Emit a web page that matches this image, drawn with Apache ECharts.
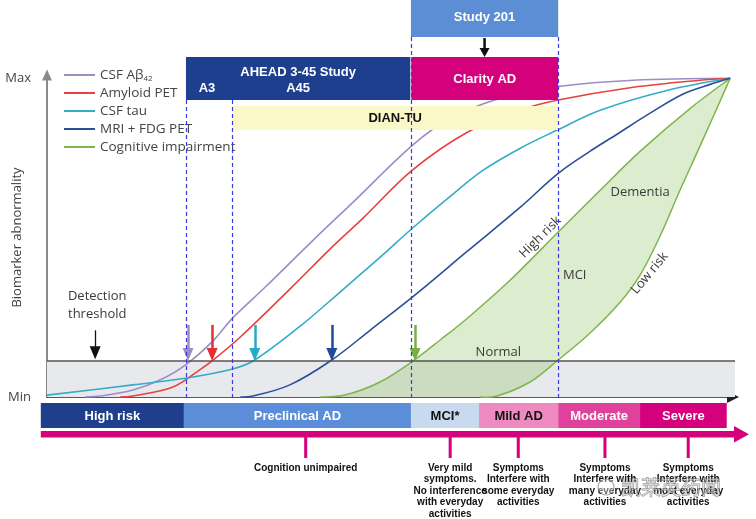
<!DOCTYPE html>
<html><head><meta charset="utf-8">
<script src="https://cdn.jsdelivr.net/npm/echarts@6/dist/echarts.min.js"></script>
<style>html,body{margin:0;padding:0;background:#fff}#c{width:756px;height:519px}</style>
</head><body><div id="c"></div>
<script>
// ---------------- data ----------------
const seriesNames = ['CSF Aβ42', 'Amyloid PET', 'CSF tau', 'MRI + FDG PET', 'Cognitive impairment'];
const csfAbeta = [[5.5,0],[7.7,0.3],[12.5,2.2],[16.4,5.3],[20.1,10.0],[24.1,17.5],[27.0,24.8],[31.7,34.4],[38.7,49.2],[44.5,61.1],[53.1,78.9],[58.6,87.4],[65.8,93.6],[74.6,97.4],[85.2,99.3],[99.3,99.9]];
const amyloidPet = [[10.6,0],[12.5,0.3],[18.3,3.1],[22.2,8.5],[24.0,11.3],[28.1,18.8],[35.3,33.8],[41.1,46.3],[45.9,56.0],[53.1,71.1],[61.1,83.0],[68.8,89.9],[74.1,93.0],[85.2,97.1],[94.9,99.3],[99.3,99.9]];
const csfTau = [[0,0.6],[12.5,3.8],[20.1,5.9],[27.0,8.8],[30.2,11.6],[36.8,22.2],[42.6,32.9],[48.4,43.8],[53.1,52.9],[58.6,62.9],[63.4,71.1],[68.8,78.0],[74.1,83.6],[80.4,89.9],[90.1,96.1],[99.3,99.9]];
const mriFdg = [[28.1,0],[29.9,0.3],[35.3,3.8],[41.4,11.6],[47.0,21.0],[53.1,31.3],[61.1,45.7],[68.8,59.5],[74.3,70.1],[78.9,77.0],[82.8,82.3],[87.6,88.9],[92.4,94.9],[96.4,98.0],[99.3,99.9]];
const cogHighRisk = [[39.7,0],[43.3,0.6],[48.4,4.7],[53.2,11.3],[57.1,17.8],[61.1,24.7],[67.3,36.6],[74.3,51.7],[80.4,64.8],[86.2,77.0],[93.5,90.5],[99.3,99.9]];
const cogLowRisk = [[62.9,0],[65.4,0.3],[70.2,4.7],[74.3,11.6],[78.9,20.0],[83.3,29.7],[86.2,38.2],[89.1,50.4],[92.0,64.8],[94.5,76.7],[97.1,89.2],[99.3,99.9]];
const threshold = 11.3;
const crossX = [20.5, 24.0, 30.2, 41.4, 53.5];
const detectionX = 7.0;

const trialNames = ['Study 201', 'AHEAD 3-45 Study', 'Clarity AD', 'DIAN-TU'];
const trialStart = [52.9, 20.2, 52.95, 26.9];
const trialEnd = [74.3, 52.8, 74.3, 74.3];
const dashedX = [20.2, 26.9, 52.95, 74.3];

const stageNames = ['High risk', 'Preclinical AD', 'MCI*', 'Mild AD', 'Moderate', 'Severe'];
const stageStart = [-0.9, 19.9, 52.9, 62.8, 74.3, 86.2];
const stageEnd = [19.9, 52.9, 62.8, 74.3, 86.2, 98.8];

const descX = [37.6, 58.6, 68.5, 81.1, 93.2];
const descTexts = ['Cognition unimpaired',
  'Very mild\nsymptoms.\nNo interference\nwith everyday\nactivities',
  'Symptoms\nInterfere with\nsome everyday\nactivities',
  'Symptoms\nInterfere with\nmany everyday\nactivities',
  'Symptoms\nInterfere with\nmost everyday\nactivities'];

const annoText = ['Normal', 'Dementia', 'MCI', 'High risk', 'Low risk', 'Detection\nthreshold'];
const annoX = [65.6, 86.2, 76.7, 71.7, 87.6, 7.3];
const annoY = [14.1, 64.2, 38.2, 50.1, 38.8, 28.8];
const annoRot = [0, 0, 0, 45, 50, 0];

// ---------------- styles ----------------
const curveColors = ['#9d8cc6', '#e8413f', '#35abc8', '#2c4f9c', '#80b54d'];
const arrowColors = ['#9d8cc6', '#e2322f', '#27aac6', '#1f4b9c', '#77b043'];
const trialColors = ['#5b8ed5', '#1e3f8e', '#d5007b', '#fbf8c8'];
const stageColors = ['#1f3f8c', '#5b8dd8', '#c9d9ef', '#ec8ac1', '#e0419a', '#d5007c'];
const stageText = ['#fff', '#fff', '#111', '#111', '#fff', '#fff'];
const FONT = '"Open Sans", "Noto Sans", sans-serif';
const ARIAL = '"Liberation Sans", Arial, sans-serif';

function crPath(pts, move) {
  let d = (move ? 'M' : 'L') + pts[0][0] + ',' + pts[0][1];
  for (let i = 0; i < pts.length - 1; i++) {
    const p0 = pts[Math.max(i - 1, 0)], p1 = pts[i], p2 = pts[i + 1], p3 = pts[Math.min(i + 2, pts.length - 1)];
    const c1 = [p1[0] + (p2[0] - p0[0]) / 6, p1[1] + (p2[1] - p0[1]) / 6];
    const c2 = [p2[0] - (p3[0] - p1[0]) / 6, p2[1] - (p3[1] - p1[1]) / 6];
    d += ' C' + c1[0] + ',' + c1[1] + ' ' + c2[0] + ',' + c2[1] + ' ' + p2[0] + ',' + p2[1];
  }
  return d;
}

const chart = echarts.init(document.getElementById('c'), null, {renderer: 'canvas'});

const lineSeries = [csfAbeta, amyloidPet, csfTau, mriFdg].map((d, i) => ({
  name: seriesNames[i], type: 'line', data: d, smooth: 0.35, showSymbol: false, symbol: 'none',
  z: 3, lineStyle: {color: curveColors[i], width: 1.6}, itemStyle: {color: curveColors[i]}, silent: true
}));

const option = {
  animation: false,
  backgroundColor: '#fff',
  grid: {left: 47, right: 21, top: 78, bottom: 122, containLabel: false, outerBoundsMode: 'none'},
  xAxis: {type: 'value', min: 0, max: 100, axisLabel: {show: false}, axisTick: {show: false}, splitLine: {show: false},
    axisLine: {show: true, lineStyle: {color: '#222', width: 1.5}, symbol: ['none', 'triangle'], symbolSize: [12, 12], symbolOffset: [0, -2]}},
  yAxis: {type: 'value', min: 0, max: 100, interval: 100, splitLine: {show: false},
    axisTick: {show: false},
    axisLine: {show: true, lineStyle: {color: '#8a8a8a', width: 2}, symbol: ['none', 'triangle'], symbolSize: [10, 11], symbolOffset: [0, 3]},
    axisLabel: {margin: 16, color: '#444', fontSize: 13, fontFamily: FONT,
      formatter: v => v === 0 ? 'Min' : (v === 100 ? 'Max' : '')},
    name: 'Biomarker abnormality', nameLocation: 'middle', nameGap: 23, nameMoveOverlap: false,
    nameTextStyle: {color: '#444', fontSize: 13, fontFamily: FONT}},
  legend: {
    data: seriesNames, orient: 'vertical', left: 64, top: 67, padding: 0, icon: 'rect', itemWidth: 31, itemHeight: 2,
    itemGap: 2, itemStyle: {borderWidth: 0}, selectedMode: false,
    textStyle: {color: '#444', fontSize: 13.5, fontFamily: FONT, lineHeight: 16,
      rich: {sub: {fontSize: 8, fontFamily: FONT, color: '#444', padding: [7, 0, 0, 0]}}},
    formatter: n => n === 'CSF Aβ42' ? 'CSF Aβ{sub|42}' : n
  },
  series: [
    {name: 'band', type: 'line', data: [[0, 0]], symbol: 'none', lineStyle: {width: 0}, z: 1, silent: true,
      markArea: {silent: true, itemStyle: {color: '#e7e9ed'}, data: [[{coord: [0, 0]}, {coord: [100, threshold]}]]},
      markLine: {silent: true, symbol: 'none', label: {show: false}, lineStyle: {color: '#555', width: 1.5, type: 'solid'},
        data: [[{coord: [0, threshold]}, {coord: [100, threshold]}]]}},
    {name: 'Cognitive impairment', type: 'custom', data: [[0, 0]], z: 2, silent: true,
      itemStyle: {color: curveColors[4]},
      renderItem: function (params, api) {
        const hi = cogHighRisk.map(p => api.coord(p));
        const lo = cogLowRisk.map(p => api.coord(p));
        const fillD = crPath(hi, true) + ' ' + crPath(lo.slice().reverse(), false) + ' Z';
        return {type: 'group', children: [
          {type: 'path', shape: {pathData: fillD}, style: {fill: 'rgba(135,190,85,0.29)', stroke: null}},
          {type: 'path', shape: {pathData: crPath(hi, true)}, style: {fill: null, stroke: curveColors[4], lineWidth: 1.5}},
          {type: 'path', shape: {pathData: crPath(lo, true)}, style: {fill: null, stroke: curveColors[4], lineWidth: 1.5}}
        ]};
      }},
    ...lineSeries,
    {name: 'arrows', type: 'line', data: [[0, 0]], symbol: 'none', lineStyle: {width: 0}, z: 4, silent: true,
      markLine: {silent: true, symbol: ['none', 'triangle'], symbolSize: [11, 13], label: {show: false},
        data: crossX.map((x, i) => [
          {coord: [x, 22.6], lineStyle: {color: arrowColors[i], width: 2.5, type: 'solid'}, itemStyle: {color: arrowColors[i]}},
          {coord: [x, threshold + 2.0]}
        ]).concat([[
          {coord: [detectionX, 20.9], lineStyle: {color: '#111', width: 1.3, type: 'solid'}, itemStyle: {color: '#111'}, symbolSize: [10, 12]},
          {coord: [detectionX, threshold + 2.6]}
        ]])}}
  ]
};
chart.setOption(option);

function X(v) { return chart.convertToPixel({gridIndex: 0}, [v, 0])[0]; }
function P(x, y) { return chart.convertToPixel({gridIndex: 0}, [x, y]); }

const g = [];
// trial boxes
const trialRows = [[0, 37], [57, 100], [57, 100], [106, 130]];
trialNames.forEach((n, i) => {
  const x0 = X(trialStart[i]), x1 = X(trialEnd[i]);
  g.push({type: 'rect', z: 100, shape: {x: x0, y: trialRows[i][0], width: x1 - x0, height: trialRows[i][1] - trialRows[i][0]}, style: {fill: trialColors[i]}});
});
const tStyle = (txt, x, y, col) => ({type: 'text', z: 101, style: {text: txt, x: x, y: y, textAlign: 'center', textVerticalAlign: 'middle', fill: col, fontSize: 13, fontWeight: 'bold', fontFamily: ARIAL}});
g.push(tStyle('Study 201', (X(trialStart[0]) + X(trialEnd[0])) / 2, 17, '#fff'));
g.push(tStyle('AHEAD 3-45 Study', (X(trialStart[1]) + X(trialEnd[1])) / 2, 72, '#fff'));
g.push(tStyle('A45', (X(trialStart[1]) + X(trialEnd[1])) / 2, 88, '#fff'));
g.push(tStyle('A3', X(trialStart[1]) + 21, 88, '#fff'));
g.push(tStyle('Clarity AD', (X(trialStart[2]) + X(trialEnd[2])) / 2, 79, '#fff'));
g.push(tStyle('DIAN-TU', (X(trialStart[3]) + X(trialEnd[3])) / 2, 118, '#111'));
// study 201 -> clarity arrow
const ax = (X(trialStart[0]) + X(trialEnd[0])) / 2;
g.push({type: 'line', z: 101, shape: {x1: ax, y1: 38, x2: ax, y2: 50}, style: {stroke: '#111', lineWidth: 2.5}});
g.push({type: 'polygon', z: 101, shape: {points: [[ax - 5, 48], [ax + 5, 48], [ax, 57]]}, style: {fill: '#111'}});
// dashed lines
const dashTop = [100, 100, 37, 37];
dashedX.forEach((v, i) => {
  const x = Math.round(X(v)) + 0.5;
  g.push({type: 'line', z: 102, shape: {x1: x, y1: dashTop[i], x2: x, y2: 400}, style: {stroke: '#3a3ae0', lineWidth: 1.2, lineDash: [4, 3]}});
});
// stage bar
stageNames.forEach((n, i) => {
  const x0 = X(stageStart[i]), x1 = X(stageEnd[i]);
  g.push({type: 'rect', z: 100, shape: {x: x0, y: 403, width: x1 - x0, height: 25}, style: {fill: stageColors[i]}});
  g.push({type: 'text', z: 101, style: {text: n, x: (x0 + x1) / 2, y: 416, textAlign: 'center', textVerticalAlign: 'middle', fill: stageText[i], fontSize: 13, fontWeight: 'bold', fontFamily: ARIAL}});
});
// magenta timeline arrow
const mx0 = X(stageStart[0]);
g.push({type: 'rect', z: 100, shape: {x: mx0, y: 431, width: 736 - mx0, height: 6.5}, style: {fill: '#d5007b'}});
g.push({type: 'polygon', z: 100, shape: {points: [[734, 426], [749, 434.2], [734, 442.5]]}, style: {fill: '#d5007b'}});
descX.forEach((v, i) => {
  const x = X(v);
  g.push({type: 'rect', z: 100, shape: {x: x - 1.5, y: 436, width: 3, height: 22}, style: {fill: '#d5007b'}});
  g.push({type: 'text', z: 101, style: {text: descTexts[i], x: x, y: 462, textAlign: 'center', textVerticalAlign: 'top', fill: '#111', fontSize: 10, fontWeight: 'bold', fontFamily: ARIAL, lineHeight: 11.6}});
});
// annotations
annoText.forEach((t, i) => {
  const p = P(annoX[i], annoY[i]);
  g.push({type: 'text', z: 50, x: p[0], y: p[1], rotation: annoRot[i] * Math.PI / 180,
    style: {text: t, x: 0, y: 0, textAlign: 'center', textVerticalAlign: 'middle', fill: '#3a3a3a', fontSize: 13, fontFamily: FONT, lineHeight: 18}});
});
// watermark
g.push({type: 'circle', z: 110, shape: {cx: 606, cy: 487, r: 8}, style: {fill: 'rgba(255,255,255,0.4)', stroke: 'rgba(110,110,110,0.6)', lineWidth: 1.2}});
g.push({type: 'text', z: 110, style: {text: '凯莱英药闻', x: 621, y: 487, textAlign: 'left', textVerticalAlign: 'middle', fill: 'rgba(255,255,255,0.45)', stroke: 'rgba(90,90,90,0.65)', lineWidth: 1, fontSize: 20, fontFamily: '"Noto Sans CJK SC", sans-serif'}});

chart.setOption({graphic: {elements: g}});
</script></body></html>
